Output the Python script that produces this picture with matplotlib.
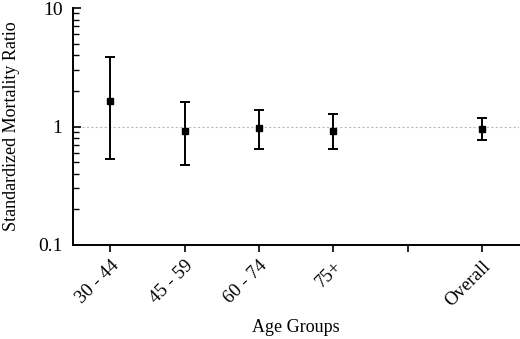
import numpy as np
import matplotlib.pyplot as plt
from matplotlib.ticker import LogLocator, FixedLocator, NullFormatter

groups = ["30 - 44", "45 - 59", "60 - 74", "75+", "", "Overall"]
positions = [1, 2, 3, 4, 6]
smr = [1.65, 0.92, 0.98, 0.92, 0.95]
lower = [0.535, 0.47, 0.64, 0.65, 0.77]
upper = [3.88, 1.61, 1.38, 1.27, 1.19]


def main():
    plt.rcParams["font.family"] = ["Liberation Serif", "DejaVu Serif"]
    fig = plt.figure(figsize=(5.2, 3.39), dpi=100)
    ax = fig.add_axes([0.1404, 0.2773, 0.8577, 0.699])

    smr_arr = np.array(smr)
    yerr = [smr_arr - np.array(lower), np.array(upper) - smr_arr]
    ax.axhline(1, color="#bbbbbb", lw=0.8, ls=(0, (2, 2)), zorder=1)
    ax.errorbar(positions, smr, yerr=yerr, fmt="s", color="black",
                ecolor="black", ms=5, elinewidth=1.4, capsize=3.3,
                capthick=1.4, zorder=3)

    ax.set_yscale("log")
    ax.set_ylim(0.1, 10)
    ax.set_xlim(0.5, 6.5)
    ax.yaxis.set_major_locator(FixedLocator([0.1, 1, 10]))
    ax.set_yticklabels(["0.1", "1", "10"])
    ax.yaxis.set_minor_locator(LogLocator(base=10, subs=np.arange(2, 10)))
    ax.yaxis.set_minor_formatter(NullFormatter())

    ax.set_xticks(range(1, 7))
    ax.set_xticklabels(groups, rotation=45, ha="right",
                       rotation_mode="anchor", fontsize=13.5)

    ax.tick_params(axis="y", which="major", direction="in", length=6,
                   width=1.2, labelsize=14, pad=7.5)
    ax.tick_params(axis="y", which="minor", direction="in", length=4,
                   width=1.0)
    ax.tick_params(axis="x", direction="out", length=5, width=1.2, pad=4)

    for side in ["top", "right"]:
        ax.spines[side].set_visible(False)
    for side in ["left", "bottom"]:
        ax.spines[side].set_linewidth(1.4)

    ax.set_ylabel("Standardized Mortality Ratio", fontsize=13, labelpad=13)
    ax.set_xlabel("Age Groups", fontsize=13, labelpad=7)

    fig.savefig("out.png", dpi=100)


if __name__ == "__main__":
    main()
